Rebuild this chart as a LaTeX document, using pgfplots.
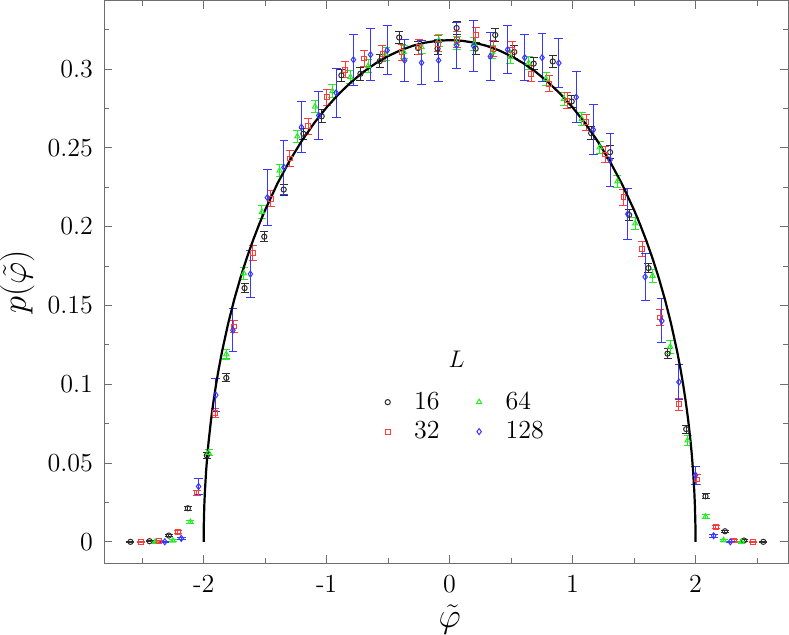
\documentclass[border=0pt]{standalone}
\usepackage{pgfplots}
\pgfplotsset{compat=1.18}
\usepackage{pgfplotstable}
\definecolor{cblack}{RGB}{45,45,45}
\definecolor{cred}{RGB}{255,60,60}
\definecolor{cgreen}{RGB}{40,235,40}
\definecolor{cblue}{RGB}{55,55,255}
\definecolor{cax}{RGB}{110,110,110}

\pgfplotstableread{
x y e
-2.595 0.0000 0.0003
-2.440 0.0004 0.0005
-2.283 0.0040 0.0008
-2.128 0.0213 0.0012
-1.974 0.0548 0.0020
-1.816 0.1040 0.0025
-1.667 0.1610 0.0030
-1.507 0.1936 0.0030
-1.349 0.2235 0.0035
-1.189 0.2589 0.0035
-1.040 0.2700 0.0040
-0.880 0.2960 0.0040
-0.725 0.2970 0.0040
-0.568 0.3050 0.0040
-0.410 0.3200 0.0040
-0.256 0.3133 0.0040
-0.098 0.3129 0.0040
0.057 0.3260 0.0040
0.212 0.3129 0.0040
0.371 0.3216 0.0040
0.526 0.3108 0.0040
0.684 0.3034 0.0040
0.839 0.3048 0.0040
0.993 0.2794 0.0040
1.151 0.2593 0.0040
1.305 0.2472 0.0040
1.460 0.2074 0.0035
1.617 0.1737 0.0030
1.772 0.1194 0.0030
1.924 0.0715 0.0025
2.081 0.0289 0.0015
2.239 0.0067 0.0008
2.394 0.0008 0.0005
2.551 0.0000 0.0003
}\tabA

\pgfplotstableread{
x y e
-2.510 0.0000 0.0003
-2.360 0.0003 0.0005
-2.210 0.0062 0.0010
-2.058 0.0308 0.0015
-1.906 0.0819 0.0030
-1.754 0.1366 0.0040
-1.600 0.1832 0.0050
-1.455 0.2177 0.0050
-1.300 0.2432 0.0050
-1.151 0.2637 0.0050
-0.999 0.2821 0.0050
-0.850 0.2995 0.0050
-0.695 0.3067 0.0050
-0.546 0.3097 0.0050
-0.391 0.3107 0.0050
-0.250 0.3139 0.0050
-0.093 0.3160 0.0050
0.057 0.3186 0.0050
0.212 0.3214 0.0050
0.355 0.3129 0.0050
0.510 0.3123 0.0050
0.662 0.2970 0.0050
0.809 0.2907 0.0050
0.955 0.2800 0.0050
1.110 0.2662 0.0050
1.265 0.2457 0.0050
1.414 0.2186 0.0050
1.566 0.1858 0.0050
1.713 0.1423 0.0050
1.865 0.0872 0.0040
2.011 0.0395 0.0030
2.166 0.0094 0.0010
2.315 0.0008 0.0005
2.470 0.0000 0.0003
}\tabB

\pgfplotstableread{
x y e
-2.394 0.0000 0.0003
-2.251 0.0008 0.0005
-2.107 0.0126 0.0010
-1.960 0.0565 0.0020
-1.816 0.1190 0.0030
-1.673 0.1703 0.0040
-1.526 0.2093 0.0040
-1.382 0.2355 0.0040
-1.238 0.2572 0.0040
-1.094 0.2762 0.0040
-0.953 0.2860 0.0040
-0.806 0.2949 0.0040
-0.663 0.3019 0.0040
-0.519 0.3097 0.0040
-0.372 0.3107 0.0040
-0.228 0.3139 0.0040
-0.087 0.3182 0.0040
0.057 0.3165 0.0040
0.200 0.3160 0.0040
0.347 0.3107 0.0040
0.494 0.3076 0.0040
0.643 0.3038 0.0040
0.784 0.2938 0.0040
0.931 0.2811 0.0040
1.075 0.2684 0.0040
1.221 0.2503 0.0040
1.365 0.2287 0.0040
1.509 0.2020 0.0040
1.650 0.1688 0.0040
1.794 0.1238 0.0040
1.935 0.0643 0.0030
2.081 0.0160 0.0015
2.228 0.0010 0.0005
2.372 0.0000 0.0003
}\tabC

\pgfplotstableread{
x y e
-2.316 0.0000 0.0005
-2.182 0.0022 0.0008
-2.041 0.0351 0.0051
-1.901 0.0931 0.0107
-1.762 0.1343 0.0138
-1.620 0.1699 0.0148
-1.482 0.2184 0.0180
-1.347 0.2376 0.0172
-1.205 0.2631 0.0160
-1.064 0.2705 0.0154
-0.923 0.2849 0.0156
-0.782 0.3059 0.0162
-0.643 0.3091 0.0166
-0.508 0.3118 0.0155
-0.366 0.3055 0.0132
-0.228 0.3040 0.0141
-0.090 0.3055 0.0135
0.057 0.3150 0.0148
0.195 0.3146 0.0160
0.331 0.3080 0.0152
0.472 0.3123 0.0152
0.611 0.3072 0.0145
0.752 0.3072 0.0151
0.888 0.3038 0.0156
1.030 0.2821 0.0161
1.169 0.2614 0.0158
1.305 0.2423 0.0167
1.449 0.2080 0.0162
1.590 0.1681 0.0150
1.726 0.1402 0.0140
1.865 0.1014 0.0114
2.000 0.0423 0.0058
2.147 0.0039 0.0010
2.283 0.0000 0.0005
}\tabD

\pgfplotstableread{
x y
-2.000 0.000000
-1.999 0.010065
-1.995 0.022494
-1.990 0.031791
-1.980 0.044903
-1.970 0.054926
-1.960 0.063342
-1.940 0.077383
-1.920 0.089127
-1.900 0.099393
-1.880 0.108600
-1.850 0.120947
-1.800 0.138748
-1.750 0.154103
-1.700 0.167682
-1.650 0.179888
-1.600 0.190986
-1.550 0.201160
-1.500 0.210542
-1.400 0.227320
-1.300 0.241895
-1.200 0.254648
-1.100 0.265842
-1.000 0.275664
-0.900 0.284259
-0.800 0.291735
-0.700 0.298176
-0.600 0.303648
-0.500 0.308202
-0.400 0.311879
-0.300 0.314709
-0.200 0.316713
-0.100 0.317912
0.000 0.318310
0.100 0.317912
0.200 0.316713
0.300 0.314709
0.400 0.311879
0.500 0.308202
0.600 0.303648
0.700 0.298176
0.800 0.291735
0.900 0.284259
1.000 0.275664
1.100 0.265842
1.200 0.254648
1.300 0.241895
1.400 0.227320
1.500 0.210542
1.550 0.201160
1.600 0.190986
1.650 0.179888
1.700 0.167682
1.750 0.154103
1.800 0.138748
1.850 0.120947
1.880 0.108600
1.900 0.099393
1.920 0.089127
1.940 0.077383
1.960 0.063342
1.970 0.054926
1.980 0.044903
1.990 0.031791
1.995 0.022494
1.999 0.010065
2.000 0.000000
}\tabCurve

\begin{document}
\begin{tikzpicture}
\begin{axis}[
  scale only axis,
  width=341.5pt, height=281pt,
  xmin=-2.807, xmax=2.755,
  ymin=-0.0137, ymax=0.3434,
  xtick={-2,-1,0,1,2},
  xticklabels={-2,-1,0,1,2},
  minor xtick={-2.5,-1.5,-0.5,0.5,1.5,2.5},
  ytick={0,0.05,0.1,0.15,0.2,0.25,0.3},
  yticklabels={0,0.05,0.1,0.15,0.2,0.25,0.3},
  minor ytick={0.025,0.075,0.125,0.175,0.225,0.275,0.325},
  tick align=inside,
  tick pos=both,
  major tick length=4pt,
  minor tick length=2.5pt,
  axis line style={cax, line width=0.6pt},
  every tick/.style={cax, line width=0.5pt},
  ticklabel style={font=\fontsize{13}{15}\selectfont},
  xticklabel style={inner sep=0pt, yshift=-5.5pt},
  yticklabel style={inner sep=0pt, xshift=-5.5pt},
  xlabel={$\tilde{\varphi}$},
  ylabel={$p(\tilde{\varphi})$},
  every axis x label/.style={at={(axis description cs:0.505,0)}, anchor=base, yshift=-32pt, inner sep=0pt, font=\fontsize{18}{22}\selectfont},
  every axis y label/.style={at={(axis description cs:-0.1274,0.5)}, anchor=center, rotate=90, inner sep=0pt, font=\fontsize{18}{22}\selectfont},
  legend columns=2,
  legend cell align=left,
  legend style={draw=none, fill=none, at={(axis cs:0.13,0.0793)}, anchor=center,
    font=\fontsize{13}{15}\selectfont, row sep=0.5pt,
    /tikz/every even column/.append style={column sep=15.5pt}},
  legend image code/.code={\path (-2pt,0pt) (11pt,0pt); \draw[#1] plot coordinates {(0pt,0pt)};},
  clip=false,
]
\addplot[only marks, color=cblack, mark=o, mark size=1.3pt, mark options={line width=0.5pt},
  error bars/.cd, y dir=both, y explicit,
  error bar style={cblack, line width=0.5pt},
  error mark options={rotate=90, mark size=2pt, line width=0.5pt}]
  table[x=x, y=y, y error=e] {\tabA};
\addlegendentry{16}
\addplot[only marks, color=cgreen, mark=triangle, mark size=1.5pt, mark options={line width=0.5pt},
  error bars/.cd, y dir=both, y explicit,
  error bar style={cgreen, line width=0.5pt},
  error mark options={rotate=90, mark size=2pt, line width=0.5pt}]
  table[x=x, y=y, y error=e] {\tabC};
\addlegendentry{64}
\addplot[only marks, color=cred, mark=square, mark size=1.2pt, mark options={line width=0.5pt},
  error bars/.cd, y dir=both, y explicit,
  error bar style={cred, line width=0.5pt},
  error mark options={rotate=90, mark size=2pt, line width=0.5pt}]
  table[x=x, y=y, y error=e] {\tabB};
\addlegendentry{32}
\addplot[only marks, color=cblue, mark=diamond, mark size=1.5pt, mark options={line width=0.5pt},
  error bars/.cd, y dir=both, y explicit,
  error bar style={cblue, line width=0.5pt},
  error mark options={rotate=90, mark size=2.2pt, line width=0.5pt}]
  table[x=x, y=y, y error=e] {\tabD};
\addlegendentry{128}
\addplot[black, line width=1.1pt, no markers, forget plot] table[x=x, y=y] {\tabCurve};
\node[font=\fontsize{13}{15}\selectfont] at (axis cs:0.057,0.116) {$L$};
\end{axis}
\end{tikzpicture}
\end{document}
